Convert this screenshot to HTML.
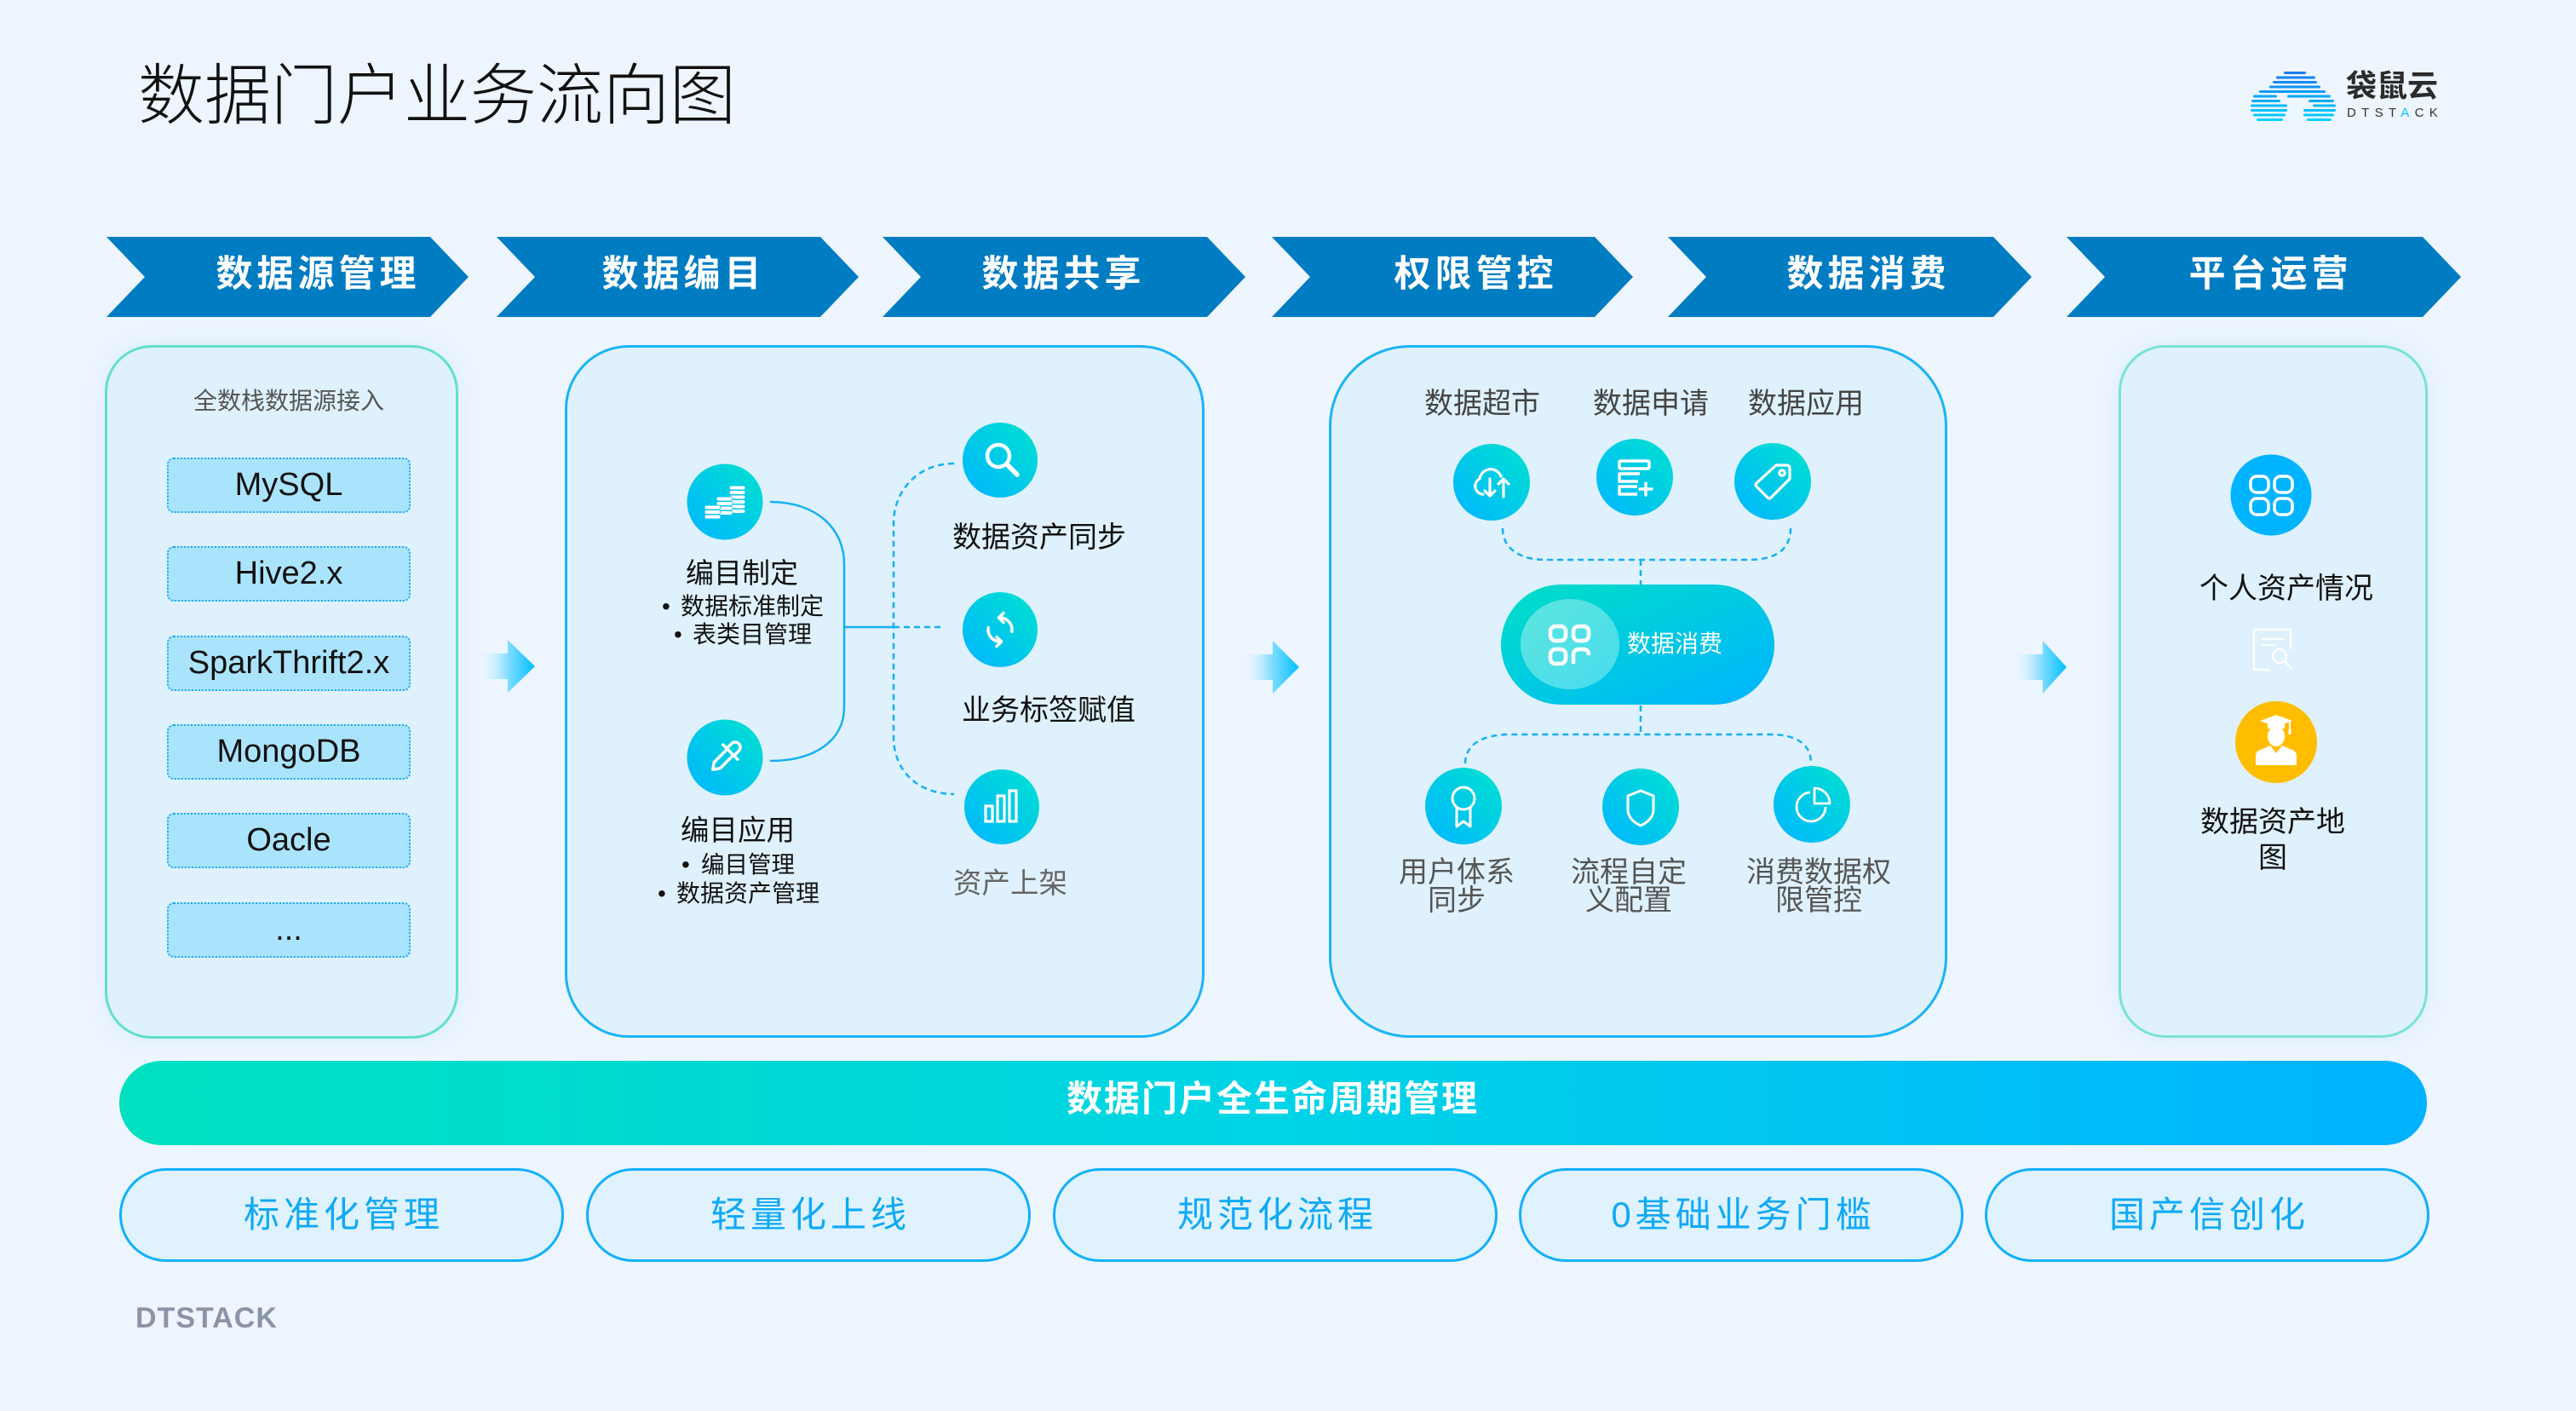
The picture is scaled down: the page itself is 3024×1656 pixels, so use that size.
<!DOCTYPE html>
<html><head><meta charset="utf-8">
<style>
html,body{margin:0;padding:0;}
body{width:3024px;height:1656px;background:#edf5fe;position:relative;overflow:hidden;font-family:"Liberation Sans","Noto Sans CJK SC",sans-serif;}
.t{position:absolute;white-space:nowrap;}
.panel{position:absolute;box-sizing:border-box;background:#dff1fc;}
.item{position:absolute;left:196px;width:286px;height:65px;box-sizing:border-box;background:#aae4fc;border:2px dotted #1eaaf0;border-radius:8px;text-align:center;line-height:61px;font-size:38px;color:#111;font-family:"Liberation Sans",sans-serif;}
.chev{position:absolute;top:297px;width:400px;height:50px;line-height:50px;text-align:center;color:#fff;font-weight:700;font-size:43px;letter-spacing:5px;padding-left:5px;box-sizing:border-box;}
.pill{position:absolute;top:1371px;width:522px;height:110px;box-sizing:border-box;border:3px solid #12b0fa;background:#dff2fd;border-radius:55px;text-align:center;line-height:104px;font-size:42px;letter-spacing:5px;color:#0fa9f6;padding-left:5px;}
</style></head><body>

<div class="panel" style="left:123px;top:405px;width:415px;height:814px;border:3px solid #62e0cc;border-radius:55px;box-shadow:0 0 24px rgba(120,200,240,0.18);"></div>
<div class="panel" style="left:663px;top:405px;width:751px;height:813px;border:3px solid #1ab4f5;border-radius:75px;"></div>
<div class="panel" style="left:1560px;top:405px;width:726px;height:813px;border:3px solid #1ab4f5;border-radius:95px;"></div>
<div class="panel" style="left:2487px;top:405px;width:363px;height:813px;border:3px solid #78e4d2;border-radius:55px;box-shadow:0 0 24px rgba(120,200,240,0.18);"></div>

<svg width="3024" height="1656" viewBox="0 0 3024 1656" style="position:absolute;left:0;top:0;">
<defs>
  <linearGradient id="gI" x1="1" y1="0" x2="0" y2="1">
    <stop offset="0" stop-color="#00e2cf"/><stop offset="1" stop-color="#00b5ff"/>
  </linearGradient>
  <linearGradient id="gP" x1="0" y1="0" x2="1" y2="1">
    <stop offset="0" stop-color="#00dfc6"/><stop offset="1" stop-color="#00b4ff"/>
  </linearGradient>
  <linearGradient id="gIn" x1="0" y1="0" x2="1" y2="1">
    <stop offset="0" stop-color="#6ee8e0"/><stop offset="1" stop-color="#55e0f0"/>
  </linearGradient>
  <linearGradient id="gBar" x1="0" y1="0" x2="1" y2="0">
    <stop offset="0" stop-color="#00e0c0"/><stop offset="0.5" stop-color="#00d4e6"/><stop offset="1" stop-color="#00b2ff"/>
  </linearGradient>
  <linearGradient id="gA1" gradientUnits="userSpaceOnUse" x1="566" y1="0" x2="628" y2="0">
    <stop offset="0" stop-color="#e8f6ff" stop-opacity="0.3"/><stop offset="0.5" stop-color="#7fdcff"/><stop offset="1" stop-color="#00c0ff"/>
  </linearGradient>
  <linearGradient id="gA2" gradientUnits="userSpaceOnUse" x1="1462" y1="0" x2="1525" y2="0">
    <stop offset="0" stop-color="#e8f6ff" stop-opacity="0.3"/><stop offset="0.5" stop-color="#7fdcff"/><stop offset="1" stop-color="#00c0ff"/>
  </linearGradient>
  <linearGradient id="gA3" gradientUnits="userSpaceOnUse" x1="2368" y1="0" x2="2426" y2="0">
    <stop offset="0" stop-color="#e8f6ff" stop-opacity="0.3"/><stop offset="0.5" stop-color="#7fdcff"/><stop offset="1" stop-color="#00c0ff"/>
  </linearGradient>
  <linearGradient id="gLogo" gradientUnits="userSpaceOnUse" x1="0" y1="83" x2="0" y2="141">
    <stop offset="0" stop-color="#1a74f0"/><stop offset="1" stop-color="#00d4ff"/>
  </linearGradient>
</defs>

<!-- chevrons -->
<g fill="#007cc3">
  <polygon points="125,278 505,278 550,325 505,372 125,372 170,325"/>
  <polygon points="583,278 963,278 1008,325 963,372 583,372 628,325"/>
  <polygon points="1036,278 1417,278 1462,325 1417,372 1036,372 1081,325"/>
  <polygon points="1493,278 1872,278 1917,325 1872,372 1493,372 1538,325"/>
  <polygon points="1958,278 2340,278 2385,325 2340,372 1958,372 2003,325"/>
  <polygon points="2426,278 2844,278 2889,325 2844,372 2426,372 2471,325"/>
</g>

<!-- flow arrows -->
<polygon fill="url(#gA1)" points="566,767 596,767 596,751 628,782 596,813 596,797 566,797"/>
<polygon fill="url(#gA2)" points="1462,768 1494,768 1494,752 1525,783 1494,814 1494,798 1462,798"/>
<polygon fill="url(#gA3)" points="2368,768 2398,768 2398,752 2426,783 2398,814 2398,798 2368,798"/>

<!-- logo icon -->
<g fill="url(#gLogo)">
  <rect x="2681" y="84" width="26" height="3" rx="1.5"/>
  <rect x="2672" y="89.5" width="46" height="3" rx="1.5"/>
  <rect x="2668" y="95" width="52" height="3" rx="1.5"/>
  <rect x="2664" y="100.5" width="60" height="3" rx="1.5"/>
  <rect x="2652" y="106" width="78" height="3" rx="1.5"/>
  <rect x="2645" y="111.5" width="28" height="3" rx="1.5"/>
  <rect x="2685" y="111.5" width="51" height="3" rx="1.5"/>
  <rect x="2643" y="117" width="34" height="3" rx="1.5"/>
  <rect x="2710" y="117" width="30" height="3" rx="1.5"/>
  <rect x="2642" y="122.5" width="43" height="3" rx="1.5"/>
  <rect x="2715" y="122.5" width="27" height="3" rx="1.5"/>
  <rect x="2642" y="128" width="43" height="3" rx="1.5"/>
  <rect x="2704" y="128" width="38" height="3" rx="1.5"/>
  <rect x="2645" y="133.5" width="38" height="3" rx="1.5"/>
  <rect x="2704" y="133.5" width="36" height="3" rx="1.5"/>
  <rect x="2649" y="139" width="31" height="3" rx="1.5"/>
  <rect x="2708" y="139" width="29" height="3" rx="1.5"/>
</g>

<!-- panel 2 connectors -->
<g fill="none" stroke="#16b0f2" stroke-width="2.5">
  <path d="M904,589 C958,589 991,620 991,662 L991,830 C991,868 958,893 904,893"/>
  <path d="M991,736 H1049"/>
  <path stroke-dasharray="7 5" d="M1049,736 H1108"/>
  <path stroke-dasharray="7 5" d="M1120,544 C1078,544 1049,575 1049,615 L1049,865 C1049,905 1078,932 1120,932"/>
</g>

<!-- panel 2 icons -->
<g transform="translate(851,589)">
  <circle r="44.5" fill="url(#gI)"/>
  <g fill="#fff" stroke="#0cc6ee" stroke-width="1">
    <rect x="5" y="-19" width="19" height="5" rx="2.5"/>
    <rect x="5" y="-13.5" width="19" height="5" rx="2.5"/>
    <rect x="5" y="-8" width="19" height="5" rx="2.5"/>
    <rect x="5" y="-2.5" width="19" height="5" rx="2.5"/>
    <rect x="5" y="3" width="19" height="5" rx="2.5"/>
    <rect x="5" y="8.5" width="19" height="5" rx="2.5"/>
    <rect x="-10" y="-6" width="19" height="5" rx="2.5"/>
    <rect x="-10" y="-0.5" width="19" height="5" rx="2.5"/>
    <rect x="-10" y="5" width="19" height="5" rx="2.5"/>
    <rect x="-10" y="10.5" width="19" height="5" rx="2.5"/>
    <rect x="-24" y="4" width="19" height="5" rx="2.5"/>
    <rect x="-24" y="9.5" width="19" height="5" rx="2.5"/>
    <rect x="-24" y="15" width="19" height="5" rx="2.5"/>
  </g>
</g>
<g transform="translate(851,889)">
  <circle r="44.5" fill="url(#gI)"/>
  <g transform="rotate(45)" fill="none" stroke="#fff" stroke-width="3.5" stroke-linejoin="round" stroke-linecap="round">
    <path d="M-6,-9 V-17 A6 6 0 0 1 6,-17 V-9"/>
    <path d="M-12,-9 H12"/>
    <path d="M-5,-9 V13 L0,20 L5,13 V-9"/>
  </g>
</g>
<g transform="translate(1174,540)">
  <circle r="44" fill="url(#gI)"/>
  <circle cx="-2" cy="-5" r="13" fill="none" stroke="#fff" stroke-width="4.5"/>
  <path d="M8,5 L20,17" stroke="#fff" stroke-width="5.5" stroke-linecap="round"/>
</g>
<g transform="translate(1174,739)">
  <circle r="44" fill="url(#gI)"/>
  <g fill="none" stroke="#fff" stroke-width="3.5" stroke-linecap="round" stroke-linejoin="round">
    <path d="M13.8,2.4 A14 14 0 0 0 -1.2,-13.9"/>
    <path d="M4,-19.5 L-1.5,-14 L4,-8.5"/>
    <path d="M-13.8,-2.4 A14 14 0 0 0 1.2,13.9"/>
    <path d="M-4,8.5 L1.5,14 L-4,19.5"/>
  </g>
</g>
<g transform="translate(1176,947)">
  <circle r="44" fill="url(#gI)"/>
  <g fill="none" stroke="#fff" stroke-width="3.2">
    <rect x="-19" y="-1" width="8" height="18"/>
    <rect x="-5" y="-13" width="8" height="30"/>
    <rect x="9" y="-19" width="8" height="36"/>
  </g>
</g>

<!-- panel 3 connectors -->
<g fill="none" stroke="#16b0f2" stroke-width="2.5" stroke-dasharray="7 5">
  <path d="M1764,620 C1764,644 1784,657 1815,657 L2052,657 C2086,657 2102,644 2102,620"/>
  <path d="M1926,657 V687"/>
  <path d="M1926,828 V862"/>
  <path d="M1720,896 C1720,874 1740,862 1772,862 L2078,862 C2110,862 2126,874 2126,896"/>
</g>

<!-- panel 3 top icons -->
<g transform="translate(1751,566)">
  <circle r="45" fill="url(#gI)"/>
  <g fill="none" stroke="#fff" stroke-width="3.2" stroke-linecap="round" stroke-linejoin="round">
    <path d="M-10,14 A9.5 9.5 0 0 1 -14,-4 A13 13 0 0 1 11,-7"/>
    <path d="M-2,-4 V16 M-8,10 L-2,16 L4,10"/>
    <path d="M14,17 V-4 M8,2 L14,-4 L20,2"/>
  </g>
</g>
<g transform="translate(1919,560)">
  <circle r="45" fill="url(#gI)"/>
  <g fill="none" stroke="#fff" stroke-width="3.5" stroke-linejoin="round">
    <rect x="-18" y="-19" width="35" height="9" rx="1.5"/>
    <path d="M6,-4 H-18 V5 H4"/>
    <path d="M3,11 H-18 V20 H3"/>
    <path d="M13,7 V21 M6,14 H20" stroke-linecap="round"/>
  </g>
</g>
<g transform="translate(2081,565)">
  <circle r="45" fill="url(#gI)"/>
  <g fill="none" stroke="#fff" stroke-width="3.2" stroke-linejoin="round">
    <path d="M4,-19 H16 Q20,-19 20,-15 V-3 L-2,19 Q-4,21 -6,19 L-19,6 Q-21,4 -19,2 Z"/>
    <circle cx="11" cy="-10" r="3.2"/>
  </g>
</g>

<!-- pill -->
<rect x="1762" y="686" width="321" height="141" rx="70.5" fill="url(#gP)"/>
<ellipse cx="1843" cy="756" rx="58" ry="53" fill="url(#gIn)" opacity="0.85"/>
<g fill="none" stroke="#fff" stroke-width="4.5">
  <rect x="1820" y="735" width="18" height="17" rx="6"/>
  <rect x="1847" y="735" width="18" height="17" rx="6"/>
  <rect x="1820" y="762" width="18" height="17" rx="6"/>
  <path d="M1847,779 V769 Q1847,762 1854,762 H1859 Q1865,762 1865,769"/>
</g>

<!-- panel 3 bottom icons -->
<g transform="translate(1718,946)">
  <circle r="45" fill="url(#gI)"/>
  <g fill="none" stroke="#fff" stroke-width="3" stroke-linejoin="round">
    <circle cx="0" cy="-9" r="13"/>
    <path d="M-8,2 V24 L0,18 L8,24 V2"/>
  </g>
</g>
<g transform="translate(1926,947)">
  <circle r="45" fill="url(#gI)"/>
  <path d="M0,-19 L15,-13 V3 Q15,15 0,22 Q-15,15 -15,3 V-13 Z" fill="none" stroke="#fff" stroke-width="3" stroke-linejoin="round"/>
</g>
<g transform="translate(2127,944)">
  <circle r="45" fill="url(#gI)"/>
  <g fill="none" stroke="#fff" stroke-width="2.8" stroke-linejoin="round">
    <path d="M-2,-14 A17 17 0 1 0 16,3"/>
    <path d="M3,-1 V-19 A18 18 0 0 1 21,-1 Z"/>
  </g>
</g>

<!-- panel 4 icons -->
<g transform="translate(2666,581)">
  <circle r="47.5" fill="#00b4ff"/>
  <g fill="none" stroke="#fff" stroke-width="3.5">
    <rect x="-24" y="-22" width="21" height="19" rx="7"/>
    <rect x="4" y="-22" width="21" height="19" rx="7"/>
    <rect x="-24" y="4" width="21" height="19" rx="7"/>
    <rect x="4" y="4" width="21" height="19" rx="7"/>
  </g>
</g>
<g fill="none" stroke="#fff" stroke-width="2.2">
  <path d="M2689,762 V739 H2646 V786 H2664"/>
  <path d="M2655,750 H2681 M2655,757 H2672"/>
  <circle cx="2676" cy="770" r="8"/>
  <path d="M2682,776 L2691,786"/>
</g>
<g transform="translate(2672,871)">
  <circle r="48" fill="#ffbd00"/>
  <g fill="#fff">
    <polygon points="-19,-25 0,-32 19,-25 0,-18"/>
    <rect x="-10" y="-23" width="20" height="7"/>
    <ellipse cx="0" cy="-7" rx="10" ry="12"/>
    <path d="M-24,27 V16 Q-24,10 -16,8 L-7,4 L0,13 L7,4 L16,8 Q24,10 24,16 V27 Z"/>
  </g>
  <path d="M16,-26 V-14" stroke="#fff" stroke-width="2"/>
  <rect x="14.5" y="-15" width="3" height="6" fill="#fff"/>
</g>

<!-- lifecycle bar -->
<rect x="140" y="1245" width="2709" height="99" rx="49.5" fill="url(#gBar)"/>
</svg>

<!-- title & logo text -->
<div class="t" style="left:162px;top:73px;font-size:78px;line-height:78px;font-weight:300;color:#111;">数据门户业务流向图</div>
<div class="t" style="left:2754px;top:83px;font-size:36px;line-height:36px;font-weight:700;color:#2b2b2b;">袋鼠云</div>
<div class="t" style="left:2755px;top:124px;font-size:15px;line-height:17px;letter-spacing:6.3px;color:#333;">DTST<span style="color:#00c0ff">A</span>CK</div>

<!-- chevron labels -->
<div class="chev" style="left:171px;">数据源管理</div>
<div class="chev" style="left:600px;">数据编目</div>
<div class="chev" style="left:1046px;">数据共享</div>
<div class="chev" style="left:1530px;">权限管控</div>
<div class="chev" style="left:1991px;">数据消费</div>
<div class="chev" style="left:2463px;">平台运营</div>

<!-- panel 1 -->
<div class="t" style="left:189px;width:300px;text-align:center;top:457px;font-size:28px;line-height:28px;color:#555;">全数栈数据源接入</div>
<div class="item" style="top:537px;">MySQL</div>
<div class="item" style="top:641px;">Hive2.x</div>
<div class="item" style="top:746px;">SparkThrift2.x</div>
<div class="item" style="top:850px;">MongoDB</div>
<div class="item" style="top:954px;">Oacle</div>
<div class="item" style="top:1059px;">...</div>

<!-- panel 2 text -->
<div class="t" style="left:805px;top:656px;font-size:33px;line-height:34px;color:#111;">编目制定</div>
<div class="t" style="left:777px;top:697px;font-size:28px;line-height:30px;color:#111;">•</div>
<div class="t" style="left:799px;top:697px;font-size:28px;line-height:30px;color:#111;">数据标准制定</div>
<div class="t" style="left:791px;top:730px;font-size:28px;line-height:30px;color:#111;">•</div>
<div class="t" style="left:813px;top:730px;font-size:28px;line-height:30px;color:#111;">表类目管理</div>
<div class="t" style="left:799px;top:959px;font-size:33.5px;line-height:34px;color:#111;">编目应用</div>
<div class="t" style="left:800px;top:1000px;font-size:28px;line-height:30px;color:#111;">•</div>
<div class="t" style="left:823px;top:1000px;font-size:27.5px;line-height:30px;color:#111;">编目管理</div>
<div class="t" style="left:772px;top:1034px;font-size:28px;line-height:30px;color:#111;">•</div>
<div class="t" style="left:794px;top:1034px;font-size:28px;line-height:30px;color:#111;">数据资产管理</div>
<div class="t" style="left:1118px;top:614px;font-size:34px;line-height:34px;color:#111;">数据资产同步</div>
<div class="t" style="left:1129px;top:817px;font-size:34px;line-height:34px;color:#111;">业务标签赋值</div>
<div class="t" style="left:1119px;top:1021px;font-size:33.5px;line-height:34px;color:#666;">资产上架</div>

<!-- panel 3 text -->
<div class="t" style="left:1640px;width:200px;text-align:center;top:457px;font-size:34px;line-height:34px;color:#444;">数据超市</div>
<div class="t" style="left:1838px;width:200px;text-align:center;top:457px;font-size:34px;line-height:34px;color:#444;">数据申请</div>
<div class="t" style="left:2020px;width:200px;text-align:center;top:457px;font-size:34px;line-height:34px;color:#444;">数据应用</div>
<div class="t" style="left:1910px;top:742px;font-size:28px;line-height:28px;color:#fff;">数据消费</div>
<div class="t" style="left:1610px;width:200px;text-align:center;top:1008px;font-size:34px;line-height:33px;color:#555;white-space:normal;">用户体系<br>同步</div>
<div class="t" style="left:1812px;width:200px;text-align:center;top:1008px;font-size:34px;line-height:33px;color:#555;white-space:normal;">流程自定<br>义配置</div>
<div class="t" style="left:2035px;width:200px;text-align:center;top:1008px;font-size:34px;line-height:33px;color:#555;white-space:normal;">消费数据权<br>限管控</div>

<!-- panel 4 text -->
<div class="t" style="left:2534px;width:300px;text-align:center;top:674px;font-size:34px;line-height:34px;color:#111;">个人资产情况</div>
<div class="t" style="left:2518px;width:300px;text-align:center;top:944px;font-size:34px;line-height:42px;color:#111;white-space:normal;">数据资产地<br>图</div>

<!-- lifecycle text -->
<div class="t" style="left:1094px;width:800px;text-align:center;top:1267px;font-size:42px;line-height:46px;font-weight:700;letter-spacing:2px;color:#fff;">数据门户全生命周期管理</div>

<!-- bottom pills -->
<div class="pill" style="left:140px;">标准化管理</div>
<div class="pill" style="left:688px;">轻量化上线</div>
<div class="pill" style="left:1236px;">规范化流程</div>
<div class="pill" style="left:1783px;">0基础业务门槛</div>
<div class="pill" style="left:2330px;">国产信创化</div>

<!-- footer -->
<div class="t" style="left:159px;top:1530px;font-size:34px;line-height:34px;font-weight:700;letter-spacing:1px;color:#8a94a6;">DTSTACK</div>

</body></html>
